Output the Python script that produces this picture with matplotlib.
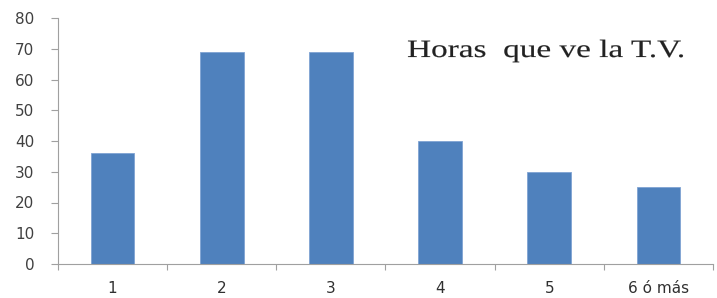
import numpy as np
import matplotlib.pyplot as plt
from matplotlib.textpath import TextPath
from matplotlib.patches import PathPatch
from matplotlib.font_manager import FontProperties
from matplotlib.transforms import Affine2D, IdentityTransform

# data
categories = ['1', '2', '3', '4', '5', '6 ó más']
values = [36, 69, 69, 40, 30, 25]
y_ticks = [0, 10, 20, 30, 40, 50, 60, 70, 80]
title = 'Horas  que ve la T.V.'

fig = plt.figure(figsize=(7.17, 2.98), dpi=100)
ax = fig.add_axes([58 / 717, 34 / 298, 655 / 717, 246 / 298])

x = np.arange(len(categories))
ax.bar(x, values, width=0.4, color='#4F81BD', edgecolor='#7FA3D3', linewidth=0.6)

ax.set_xlim(-0.5, len(categories) - 0.5)
ax.set_ylim(0, 80)
ax.set_yticks(y_ticks)
ax.set_yticklabels([str(v) for v in y_ticks], fontsize=11, color='#404040',
                   family='DejaVu Sans')

# category labels under bars, tick marks between categories
ax.set_xticks(np.arange(-0.5, len(categories) + 0.5, 1))
ax.set_xticklabels([''] * (len(categories) + 1))
ax.set_xticks(x, minor=True)
ax.set_xticklabels(categories, minor=True, fontsize=11, color='#303030',
                   family='DejaVu Sans')
ax.tick_params(axis='x', which='minor', length=0, pad=12)
ax.tick_params(axis='x', which='major', length=4, color='#A0A0A0', direction='out')
ax.tick_params(axis='y', length=5, pad=12, color='#A0A0A0', direction='out')

for s in ['top', 'right']:
    ax.spines[s].set_visible(False)
for s in ['left', 'bottom']:
    ax.spines[s].set_color('#A0A0A0')

# title drawn as a path, stretched horizontally like the original
tp = TextPath((0, 0), title, size=25, prop=FontProperties(family='Liberation Serif'))
ext = tp.get_extents()
sx = 275 / ext.width
trans = Affine2D().translate(-ext.x0, 0).scale(sx, 1).translate(408, 241)
fig.patches.append(PathPatch(tp, transform=trans + IdentityTransform(),
                             facecolor='#222222', edgecolor='#222222',
                             linewidth=0.12, figure=fig))

fig.savefig('out.png', dpi=100)
